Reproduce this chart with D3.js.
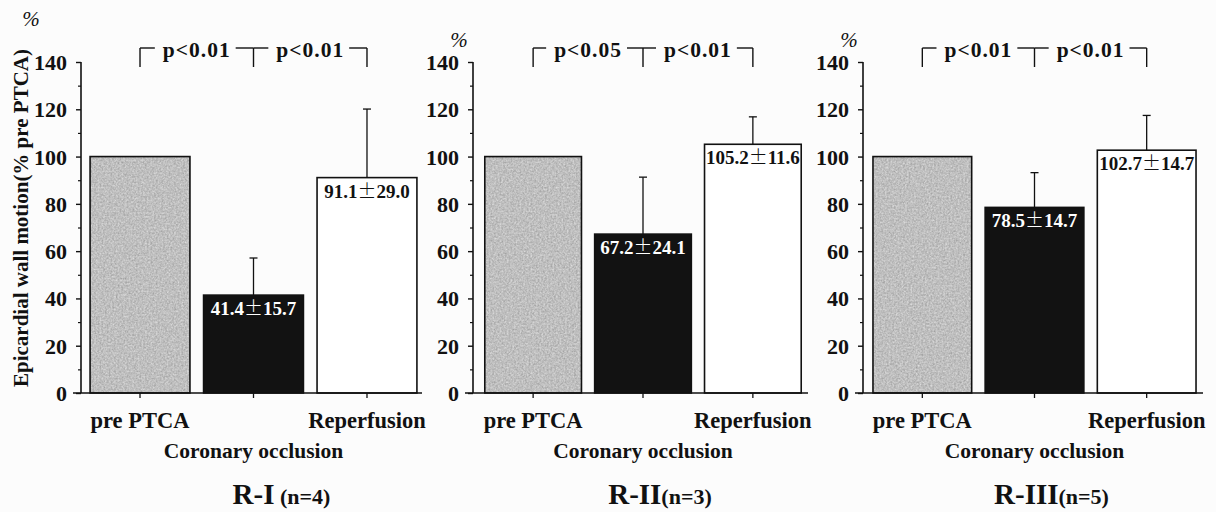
<!DOCTYPE html>
<html>
<head>
<meta charset="utf-8">
<script src="https://cdn.jsdelivr.net/npm/d3@7"></script>
<style>
  html, body { margin: 0; padding: 0; background: #fcfcfc; }
  svg { display: block; }
  text { font-family: "Liberation Serif", "Times New Roman", serif; font-weight: bold; fill: #111; }
</style>
</head>
<body>
<svg id="chart" width="1216" height="512"></svg>
<script>
// Epicardial wall motion by group, expressed as % of the pre-PTCA value
const categories = ["pre PTCA", "Coronary occlusion", "Reperfusion"];
const groupNames = ["R-I", "R-II", "R-III"];
const groupSizes = ["(n=4)", "(n=3)", "(n=5)"];
const meanByGroup = [
  [100, 41.4, 91.1],
  [100, 67.2, 105.2],
  [100, 78.5, 102.7]
];
const sdByGroup = [
  [null, 15.7, 29.0],
  [null, 24.1, 11.6],
  [null, 14.7, 14.7]
];
const pLabelsByGroup = [
  ["p<0.01", "p<0.01"],
  ["p<0.05", "p<0.01"],
  ["p<0.01", "p<0.01"]
];
const yMajorTicks = [0, 20, 40, 60, 80, 100, 120, 140];
const yMinorTicks = [10, 30, 50, 70, 90, 110, 130];
const yTitle = "Epicardial wall motion(% pre PTCA)";

// layout
const axisX = [81, 473, 863];
const bandRanges = [[81, 426], [476, 810], [864, 1205]];
const axisEnds = [422, 808, 1203];
const yBase = 393, yTop = 62;
const serif = '"Liberation Serif", "Times New Roman", serif';

const svg = d3.select("#chart");
const defs = svg.append("defs");

// grainy grey fill for the pre-PTCA bars
const grain = defs.append("filter").attr("id", "grain")
  .attr("x", 0).attr("y", 0).attr("width", 1).attr("height", 1)
  .attr("color-interpolation-filters", "sRGB");
grain.append("feTurbulence").attr("type", "fractalNoise")
  .attr("baseFrequency", 0.55).attr("numOctaves", 3).attr("seed", 7).attr("result", "noise");
grain.append("feColorMatrix").attr("in", "noise").attr("type", "saturate").attr("values", 0).attr("result", "grey");
const ct = grain.append("feComponentTransfer").attr("in", "grey").attr("result", "tone");
["feFuncR", "feFuncG", "feFuncB"].forEach(f =>
  ct.append(f).attr("type", "linear").attr("slope", 0.38).attr("intercept", 0.56));
ct.append("feFuncA").attr("type", "discrete").attr("tableValues", "1");
grain.append("feComposite").attr("in", "tone").attr("in2", "SourceGraphic").attr("operator", "in");

const y = d3.scaleLinear().domain([0, 140]).range([yBase, yTop]);

const barFills = ["#b8b8b8", "#121212", "#ffffff"];
const labelFills = ["#111", "#fff", "#111"];

function addValueText(sel, mean, sd) {
  sel.append("tspan").text(mean.toFixed(1));
  sel.append("tspan").style("font-family", '"Noto Sans CJK JP", sans-serif')
    .style("font-weight", "300").text("±");
  sel.append("tspan").text(sd.toFixed(1));
}

groupNames.forEach((name, gi) => {
  const g = svg.append("g");
  const ax = axisX[gi];
  const x = d3.scaleBand().domain(categories).range(bandRanges[gi])
    .paddingInner(0.12).paddingOuter(0.08);
  const means = meanByGroup[gi];
  const sds = sdByGroup[gi];
  const cx = c => x(c) + x.bandwidth() / 2;

  // bars
  categories.forEach((c, i) => {
    const rectAttrs = s => s.attr("x", x(c)).attr("y", y(means[i]))
      .attr("width", x.bandwidth()).attr("height", yBase - y(means[i]));
    if (i === 0) {
      g.append("rect").call(rectAttrs).attr("fill", barFills[i]).attr("filter", "url(#grain)");
      g.append("rect").call(rectAttrs).attr("fill", "none").attr("stroke", "#111").attr("stroke-width", 1.6);
    } else {
      g.append("rect").call(rectAttrs).attr("fill", barFills[i])
        .attr("stroke", "#111").attr("stroke-width", 1.6);
    }
  });

  // error bars (upper only)
  categories.forEach((c, i) => {
    if (sds[i] == null) return;
    const top = y(means[i] + sds[i]);
    g.append("line").attr("x1", cx(c)).attr("x2", cx(c))
      .attr("y1", y(means[i])).attr("y2", top).attr("stroke", "#111").attr("stroke-width", 1.3);
    g.append("line").attr("x1", cx(c) - 4).attr("x2", cx(c) + 4)
      .attr("y1", top).attr("y2", top).attr("stroke", "#111").attr("stroke-width", 1.3);
    // mean ± SD label inside the bar
    const t = g.append("text").attr("x", cx(c)).attr("y", y(means[i]) + 20)
      .attr("text-anchor", "middle").style("font-size", "19px").style("fill", labelFills[i]);
    addValueText(t, means[i], sds[i]);
  });

  // y axis
  const yAxis = d3.axisLeft(y).tickValues(yMajorTicks).tickSize(5).tickPadding(9)
    .tickFormat(d3.format("d"));
  const ya = g.append("g").attr("transform", `translate(${ax},0)`).call(yAxis);
  ya.select(".domain").attr("d", `M0,${yTop}V${yBase}`).attr("stroke", "#111").attr("stroke-width", 1.6);
  ya.selectAll(".tick line").attr("stroke", "#111").attr("stroke-width", 1.4);
  ya.selectAll(".tick text").style("font-family", serif).style("font-weight", "bold")
    .style("font-size", "22px").attr("fill", "#111").attr("dy", "0.34em");
  const yMinor = d3.axisLeft(y).tickValues(yMinorTicks).tickSize(3).tickFormat("");
  const ym = g.append("g").attr("transform", `translate(${ax},0)`).call(yMinor);
  ym.select(".domain").remove();
  ym.selectAll(".tick line").attr("stroke", "#111").attr("stroke-width", 1.2);

  // x axis
  const xAxis = d3.axisBottom(x).tickSize(5).tickFormat("");
  const xa = g.append("g").attr("transform", `translate(0,${yBase})`).call(xAxis);
  xa.select(".domain").attr("d", `M${ax - 8},0H${axisEnds[gi]}`).attr("stroke", "#111").attr("stroke-width", 1.6);
  xa.selectAll(".tick line").attr("stroke", "#111").attr("stroke-width", 1.3);

  // category labels: outer ones on the first line, middle one below
  categories.forEach((c, i) => {
    g.append("text").attr("x", cx(c)).attr("y", i === 1 ? 458 : 428)
      .attr("text-anchor", "middle").style("font-size", i === 1 ? "21.5px" : "22.5px").text(c);
  });

  // significance brackets
  const bx = categories.map(cx);
  const bTop = 48, bBottom = 67;
  const pl = pLabelsByGroup[gi];
  [[0, 1], [1, 2]].forEach(([a, b], k) => {
    const mid = (bx[a] + bx[b]) / 2;
    const t = g.append("text").attr("x", mid).attr("y", 57).attr("text-anchor", "middle")
      .style("font-size", "21.5px").style("letter-spacing", "1px").text(pl[k]);
    const w = t.node().getComputedTextLength();
    const left = mid - w / 2 - 8, right = mid + w / 2 + 5;
    g.append("line").attr("x1", bx[a]).attr("x2", left).attr("y1", bTop).attr("y2", bTop)
      .attr("stroke", "#111").attr("stroke-width", 1.4);
    g.append("line").attr("x1", right).attr("x2", bx[b]).attr("y1", bTop).attr("y2", bTop)
      .attr("stroke", "#111").attr("stroke-width", 1.4);
  });
  bx.forEach(v => g.append("line").attr("x1", v).attr("x2", v).attr("y1", bTop).attr("y2", bBottom)
    .attr("stroke", "#111").attr("stroke-width", 1.4));

  // percent unit mark
  const pctX = gi === 0 ? ax - 50 : ax - 14;
  const pctY = gi === 0 ? 26 : 47;
  g.append("text").attr("x", pctX).attr("y", pctY).attr("text-anchor", "middle")
    .style("font-weight", "normal").style("font-style", "italic").style("font-size", "21px").text("%");

  // panel title
  const title = g.append("text").attr("x", cx(categories[1]) + (gi === 0 ? 28 : 17)).attr("y", 504)
    .attr("text-anchor", "middle");
  title.append("tspan").style("font-size", "29px").text(name);
  title.append("tspan").style("font-size", "22px").text(gi === 0 ? " " + groupSizes[gi] : groupSizes[gi]);
});

// y axis title (first panel only)
svg.append("text")
  .attr("transform", `translate(28, 218) rotate(-90)`)
  .attr("text-anchor", "middle").style("font-size", "21px").text(yTitle);
</script>
</body>
</html>
